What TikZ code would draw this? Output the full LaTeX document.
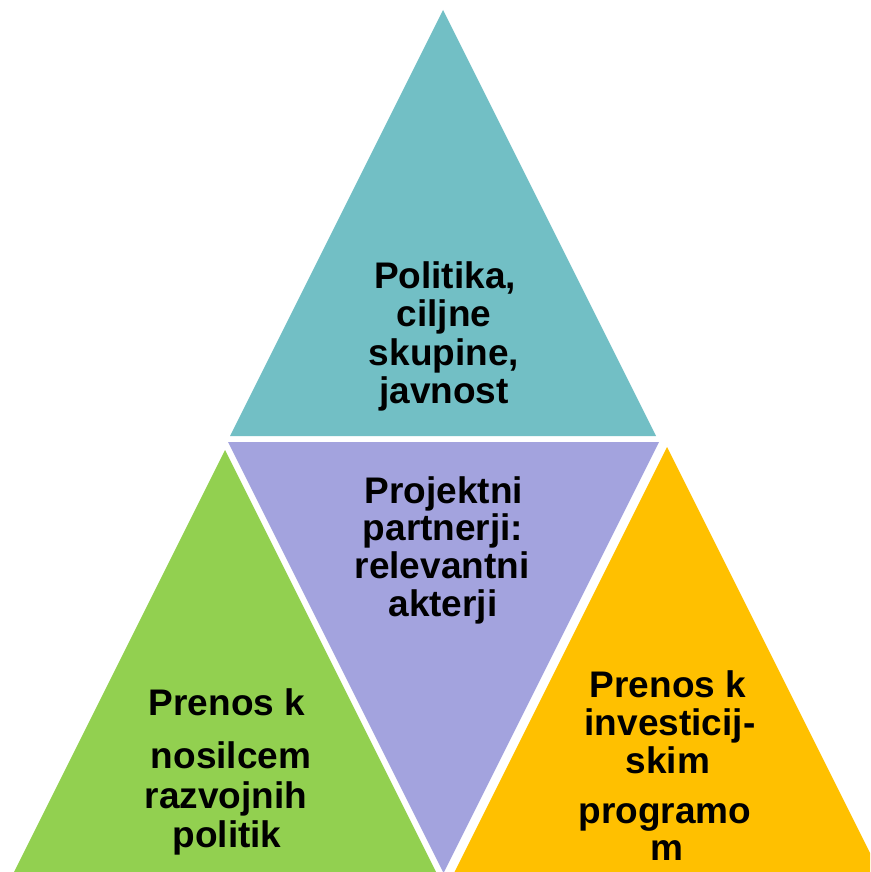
\documentclass[tikz,border=0pt]{standalone}
\usepackage{fontspec}
\setmainfont{Liberation Sans}
\definecolor{teal1}{HTML}{72BFC5}
\definecolor{purp1}{HTML}{A3A3DE}
\definecolor{green1}{HTML}{92D050}
\definecolor{orange1}{HTML}{FFC000}
\begin{document}
\begin{tikzpicture}[x=1pt,y=-1pt,
  lbl/.style={anchor=base,inner sep=0pt,font=\fontsize{37}{41}\selectfont\bfseries,text=black}]
\useasboundingbox (0,0) rectangle (870,872);
\clip (0,0) rectangle (870,872);
\fill[white] (0,0) rectangle (870,872);
% top triangle
\fill[teal1] (443,10) -- (656,436) -- (230,436) -- cycle;
% middle inverted triangle
\fill[purp1] (228,442) -- (659,442) -- (443.5,873) -- cycle;
% left triangle
\fill[green1] (225,450) -- (440,880) -- (10,880) -- cycle;
% right triangle
\fill[orange1] (667,447) -- (884,881) -- (450,881) -- cycle;
% texts
\node[lbl] (a1) at (445,288) {Politika,};
\node[lbl] (a2) at (444,326) {ciljne};
\node[lbl] (a3) at (444,365) {skupine,};
\node[lbl] (a4) at (444,403) {javnost};
\node[lbl] (b1) at (444,503) {Projektni};
\node[lbl] (b2) at (443,540) {partnerji:};
\node[lbl] (b3) at (442,578) {relevantni};
\node[lbl] (b4) at (443,616) {akterji};
\node[lbl] (c1) at (227,715) {Prenos k};
\node[lbl] (c2) at (231,768) {nosilcem};
\node[lbl] (c3) at (226,808) {razvojnih};
\node[lbl] (c4) at (227,847) {politik};
\node[lbl] (d1) at (668,697) {Prenos k};
\node[lbl] (d2) at (670,735) {investicij-};
\node[lbl] (d3) at (668,773) {skim};
\node[lbl] (d4) at (665,823) {programo};
\node[lbl] (d5) at (667,860) {m};
\end{tikzpicture}
\end{document}
